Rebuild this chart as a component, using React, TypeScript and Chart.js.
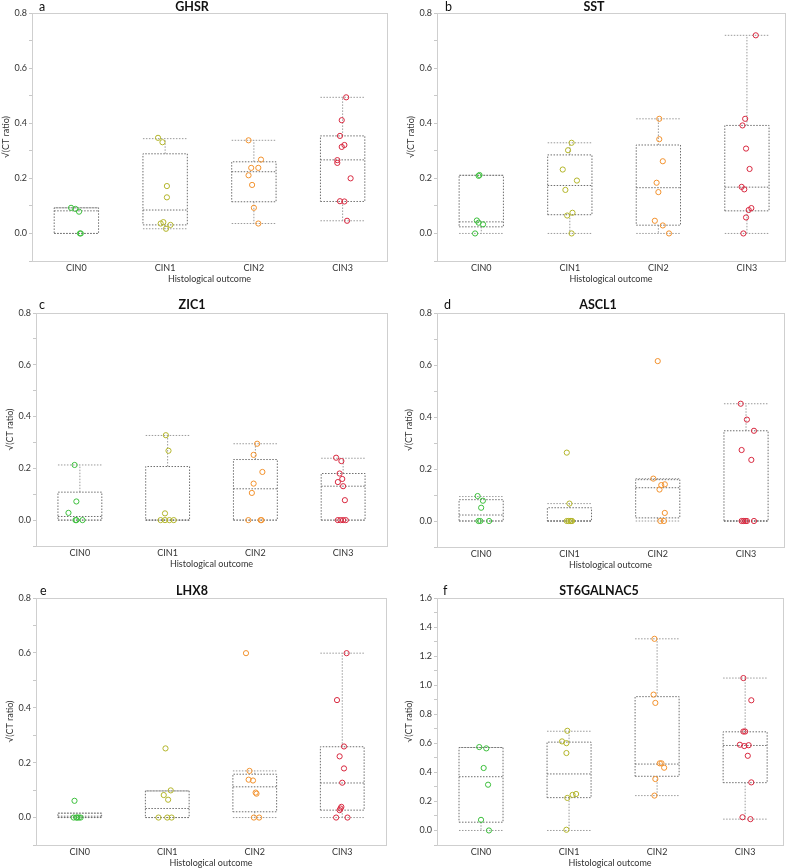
import React, { useEffect, useRef } from 'react';
import { Chart, registerables } from 'chart.js';

Chart.register(...registerables);

const CATEGORIES = ['CIN0', 'CIN1', 'CIN2', 'CIN3'];
const POINT_COLORS = ['#3cbf3c', '#b3b52a', '#f2922e', '#d8283f'];
const X_TITLE = 'Histological outcome';
const Y_TITLE = '√(CT ratio)';

// ---- GHSR ----
const GHSR_VALUES = [
  [0.093, 0.089, 0.079, 0, 0],
  [0.347, 0.331, 0.172, 0.131, 0.036, 0.041, 0.031, 0.017],
  [0.338, 0.268, 0.238, 0.238, 0.211, 0.176, 0.093, 0.036],
  [0.494, 0.411, 0.354, 0.321, 0.314, 0.266, 0.256, 0.2, 0.117, 0.116, 0.046],
];
const GHSR_JITTER = [
  [-0.06, -0.01, 0.03, 0.04, 0.05],
  [-0.08, -0.03, 0.02, 0.02, -0.05, -0.02, 0.06, 0.01],
  [-0.06, 0.08, -0.03, 0.05, -0.06, -0.02, 0, 0.05],
  [0.04, -0.01, -0.03, 0.02, -0.01, -0.06, -0.06, 0.09, -0.03, 0.02, 0.05],
];
// [min, q1, median, q3, max]
const GHSR_BOX = [
  [0, 0, 0.082, 0.093, 0.093],
  [0.017, 0.031, 0.085, 0.289, 0.344],
  [0.036, 0.115, 0.224, 0.26, 0.338],
  [0.046, 0.116, 0.267, 0.354, 0.494],
];

// ---- SST ----
const SST_VALUES = [
  [0.212, 0.209, 0.047, 0.039, 0.033, 0],
  [0.329, 0.302, 0.232, 0.192, 0.158, 0.075, 0.065, 0],
  [0.416, 0.342, 0.262, 0.184, 0.15, 0.046, 0.029, 0],
  [0.719, 0.416, 0.392, 0.308, 0.234, 0.169, 0.16, 0.092, 0.085, 0.058, 0],
];
const SST_JITTER = [
  [-0.02, -0.03, -0.05, -0.03, 0.02, -0.07],
  [0.02, -0.02, -0.08, 0.08, -0.05, 0.03, -0.03, 0.02],
  [0.01, 0.01, 0.05, -0.02, 0, -0.04, 0.05, 0.12],
  [0.1, -0.02, -0.05, -0.01, 0.03, -0.06, -0.03, 0.05, 0.02, -0.01, -0.04],
];
const SST_BOX = [
  [0, 0.024, 0.042, 0.211, 0.211],
  [0, 0.068, 0.174, 0.285, 0.329],
  [0, 0.03, 0.166, 0.321, 0.416],
  [0, 0.082, 0.168, 0.392, 0.719],
];

// ---- ZIC1 ----
const ZIC1_VALUES = [
  [0.213, 0.072, 0.028, 0, 0, 0],
  [0.328, 0.268, 0.026, 0, 0, 0, 0],
  [0.295, 0.252, 0.186, 0.141, 0.105, 0, 0, 0],
  [0.241, 0.228, 0.18, 0.159, 0.147, 0.131, 0.077, 0, 0, 0, 0],
];
const ZIC1_JITTER = [
  [-0.06, -0.04, -0.13, -0.05, -0.04, 0.03],
  [-0.02, 0.01, -0.03, -0.08, -0.03, 0.02, 0.07],
  [0.02, -0.02, 0.08, -0.02, -0.04, -0.08, 0.06, 0.07],
  [-0.08, -0.02, -0.04, -0.01, -0.06, 0, 0.02, -0.06, -0.03, 0, 0.03],
];
const ZIC1_BOX = [
  [0, 0, 0.014, 0.108, 0.213],
  [0, 0, 0, 0.207, 0.327],
  [0, 0, 0.121, 0.234, 0.295],
  [0, 0, 0.131, 0.18, 0.239],
];

// ---- ASCL1 ----
const ASCL1_VALUES = [
  [0.096, 0.078, 0.051, 0, 0, 0],
  [0.263, 0.067, 0, 0, 0, 0, 0],
  [0.615, 0.163, 0.138, 0.141, 0.121, 0.031, 0, 0],
  [0.451, 0.39, 0.347, 0.273, 0.235, 0, 0, 0, 0, 0],
];
const ASCL1_JITTER = [
  [-0.04, 0.02, 0, -0.03, -0.01, 0.09],
  [-0.03, 0, -0.03, -0.01, 0.01, 0.03, 0.02],
  [0, -0.05, 0.04, 0.08, 0.02, 0.08, 0.03, 0.07],
  [-0.06, 0.01, 0.09, -0.05, 0.06, -0.05, -0.03, -0.01, 0.01, 0.09],
];
const ASCL1_BOX = [
  [0, 0, 0.023, 0.082, 0.094],
  [0, 0, 0, 0.051, 0.067],
  [0, 0.012, 0.128, 0.159, 0.163],
  [0, 0, 0, 0.347, 0.451],
];

// ---- LHX8 ----
const LHX8_VALUES = [
  [0.061, 0, 0, 0, 0, 0],
  [0.252, 0.099, 0.082, 0.065, 0, 0, 0],
  [0.599, 0.17, 0.138, 0.135, 0.091, 0.087, 0, 0],
  [0.599, 0.428, 0.259, 0.223, 0.179, 0.127, 0.039, 0.033, 0.027, 0, 0],
];
const LHX8_JITTER = [
  [-0.06, -0.07, -0.04, -0.01, 0.01, -0.03],
  [-0.02, 0.04, -0.04, 0.01, -0.1, 0, 0.05],
  [-0.1, -0.06, -0.07, -0.02, 0.01, 0.02, -0.01, 0.05],
  [0.05, -0.06, 0.02, -0.03, 0.02, 0, -0.01, -0.02, -0.03, -0.07, 0.06],
];
const LHX8_BOX = [
  [0, 0, 0.005, 0.016, 0.016],
  [0, 0, 0.033, 0.097, 0.097],
  [0, 0.021, 0.112, 0.158, 0.17],
  [0, 0.027, 0.126, 0.258, 0.599],
];

// ---- ST6GALNAC5 ----
const ST6_VALUES = [
  [0.574, 0.565, 0.43, 0.315, 0.073, 0],
  [0.686, 0.613, 0.601, 0.533, 0.224, 0.245, 0.251, 0.005],
  [1.319, 0.935, 0.878, 0.462, 0.462, 0.432, 0.354, 0.24],
  [1.049, 0.896, 0.681, 0.681, 0.59, 0.581, 0.587, 0.514, 0.331, 0.091, 0.078],
];
const ST6_JITTER = [
  [-0.02, 0.06, 0.03, 0.08, 0, 0.09],
  [-0.02, -0.08, -0.03, -0.03, -0.02, 0.04, 0.08, -0.03],
  [-0.03, -0.04, -0.02, 0.03, 0.05, 0.08, -0.02, -0.03],
  [-0.02, 0.07, -0.02, 0, -0.06, -0.01, 0.04, 0.03, 0.07, -0.03, 0.06],
];
const ST6_BOX = [
  [0, 0.057, 0.37, 0.571, 0.571],
  [0, 0.226, 0.389, 0.608, 0.683],
  [0.24, 0.373, 0.457, 0.921, 1.319],
  [0.078, 0.329, 0.585, 0.679, 1.049],
];

const HALF = 0.25;
const FONT = 'Lato, "Open Sans", sans-serif';
const X_AXIS_H = 23;

type Panel = {
  letter: string;
  title: string;
  values: number[][];
  jitter: number[][];
  box: number[][];
  yMax: number;
  xMax: number;
  canvas: { left: number; top: number; width: number; height: number };
  area: { left: number; top: number; right: number; bottom: number };
  yTitlePad: number;
  titleX: number;
  titleY: number;
  letterX: number;
};

const PANELS: Panel[] = [
  {
    letter: 'a', title: 'GHSR', values: GHSR_VALUES, jitter: GHSR_JITTER, box: GHSR_BOX,
    yMax: 0.8, xMax: 3.5,
    canvas: { left: 0, top: 0, width: 396, height: 290 },
    area: { left: 32, top: 13, right: 387, bottom: 261 },
    yTitlePad: 1, titleX: 192, titleY: 7, letterX: 39,
  },
  {
    letter: 'b', title: 'SST', values: SST_VALUES, jitter: SST_JITTER, box: SST_BOX,
    yMax: 0.8, xMax: 3.43,
    canvas: { left: 396, top: 0, width: 397, height: 290 },
    area: { left: 41, top: 13, right: 389, bottom: 261 },
    yTitlePad: 10, titleX: 198, titleY: 7, letterX: 49,
  },
  {
    letter: 'c', title: 'ZIC1', values: ZIC1_VALUES, jitter: ZIC1_JITTER, box: ZIC1_BOX,
    yMax: 0.8, xMax: 3.5,
    canvas: { left: 0, top: 290, width: 396, height: 288 },
    area: { left: 36, top: 23, right: 387, bottom: 256 },
    yTitlePad: 5, titleX: 192, titleY: 15, letterX: 39,
  },
  {
    letter: 'd', title: 'ASCL1', values: ASCL1_VALUES, jitter: ASCL1_JITTER, box: ASCL1_BOX,
    yMax: 0.8, xMax: 3.43,
    canvas: { left: 396, top: 290, width: 397, height: 288 },
    area: { left: 41, top: 23, right: 388, bottom: 257 },
    yTitlePad: 8, titleX: 202, titleY: 15, letterX: 48,
  },
  {
    letter: 'e', title: 'LHX8', values: LHX8_VALUES, jitter: LHX8_JITTER, box: LHX8_BOX,
    yMax: 0.8, xMax: 3.5,
    canvas: { left: 0, top: 578, width: 396, height: 290 },
    area: { left: 36, top: 20, right: 386, bottom: 267 },
    yTitlePad: 5, titleX: 192, titleY: 13, letterX: 40,
  },
  {
    letter: 'f', title: 'ST6GALNAC5', values: ST6_VALUES, jitter: ST6_JITTER, box: ST6_BOX,
    yMax: 1.6, xMax: 3.43,
    canvas: { left: 396, top: 578, width: 397, height: 290 },
    area: { left: 41, top: 20, right: 387, bottom: 267 },
    yTitlePad: 8, titleX: 203, titleY: 13, letterX: 47,
  },
];

function PanelChart({ p }: { p: Panel }) {
  const ref = useRef<HTMLCanvasElement | null>(null);

  useEffect(() => {
    if (!ref.current) return;
    const boxData: any[] = [];
    const whiskerData: any[] = [];
    p.box.forEach((b, i) => {
      const [mn, q1, md, q3, mx] = b;
      const l = i - HALF;
      const r = i + HALF;
      boxData.push(
        { x: l, y: q1 }, { x: r, y: q1 }, { x: r, y: q3 }, { x: l, y: q3 }, { x: l, y: q1 },
        { x: i, y: null },
        { x: l, y: md }, { x: r, y: md },
        { x: i, y: null },
      );
      whiskerData.push(
        { x: i, y: q3 }, { x: i, y: mx }, { x: i, y: null },
        { x: i, y: q1 }, { x: i, y: mn }, { x: i, y: null },
        { x: l, y: mx }, { x: r, y: mx }, { x: i, y: null },
        { x: l, y: mn }, { x: r, y: mn }, { x: i, y: null },
      );
    });

    const pointSets = p.values.map((vals, c) => ({
      type: 'scatter' as const,
      label: CATEGORIES[c],
      data: vals.map((v, k) => ({ x: c + p.jitter[c][k], y: v })),
      showLine: false,
      pointRadius: 2.6,
      pointHoverRadius: 2.6,
      pointBorderWidth: 1,
      pointBackgroundColor: 'rgba(0,0,0,0)',
      pointBorderColor: POINT_COLORS[c],
      borderColor: POINT_COLORS[c],
    }));

    const framePlugin = {
      id: 'frame',
      beforeDatasetsDraw(chart: any) {
        const { ctx, chartArea: a } = chart;
        ctx.save();
        ctx.strokeStyle = '#cfcfcf';
        ctx.lineWidth = 1;
        ctx.strokeRect(Math.round(a.left) + 0.5, Math.round(a.top) + 0.5,
          Math.round(a.right - a.left), Math.round(a.bottom - a.top));
        ctx.restore();
      },
      afterDraw(chart: any) {
        const { ctx } = chart;
        ctx.save();
        ctx.fillStyle = '#111';
        ctx.textBaseline = 'middle';
        ctx.textAlign = 'center';
        ctx.font = `bold 12.5px ${FONT}`;
        ctx.fillText(p.title, p.titleX, p.titleY);
        ctx.textAlign = 'left';
        ctx.font = `12.5px ${FONT}`;
        ctx.fillText(p.letter, p.letterX, p.titleY);
        ctx.restore();
      },
    };

    const chart = new Chart(ref.current, {
      type: 'scatter',
      data: {
        datasets: [
          ...pointSets,
          {
            type: 'scatter' as const,
            label: 'box',
            data: boxData,
            showLine: true,
            spanGaps: false,
            borderColor: '#6e6e6e',
            borderWidth: 1,
            borderDash: [1.5, 1.5],
            pointRadius: 0,
            pointHoverRadius: 0,
          },
          {
            type: 'scatter' as const,
            label: 'whisker',
            data: whiskerData,
            showLine: true,
            spanGaps: false,
            borderColor: '#9a9a9a',
            borderWidth: 1,
            borderDash: [1.5, 1.5],
            pointRadius: 0,
            pointHoverRadius: 0,
          },
        ] as any,
      },
      options: {
        animation: false,
        responsive: false,
        maintainAspectRatio: false,
        events: [],
        layout: {
          padding: {
            left: 0,
            top: p.area.top,
            right: p.canvas.width - p.area.right,
            bottom: p.canvas.height - p.area.bottom - X_AXIS_H,
          },
        },
        plugins: {
          legend: { display: false },
          tooltip: { enabled: false },
          title: { display: false },
        },
        scales: {
          x: {
            type: 'linear',
            min: -0.5,
            max: p.xMax,
            grid: { display: false, drawTicks: false },
            border: { display: false },
            afterBuildTicks: (s: any) => {
              s.ticks = CATEGORIES.map((_, i) => ({ value: i }));
            },
            afterFit: (s: any) => {
              s.height = X_AXIS_H;
            },
            ticks: {
              autoSkip: false,
              maxRotation: 0,
              padding: 2,
              color: '#333',
              font: { family: FONT, size: 9 },
              callback: (v: any) => CATEGORIES[Math.round(Number(v))] ?? '',
            },
            title: {
              display: true,
              text: X_TITLE,
              color: '#333',
              padding: 0,
              font: { family: FONT, size: 9 },
            },
          },
          y: {
            type: 'linear',
            min: -0.1,
            max: p.yMax,
            grid: {
              display: true,
              drawOnChartArea: false,
              drawTicks: true,
              tickLength: 3,
              color: '#c8c8c8',
            },
            border: { display: false },
            afterFit: (s: any) => {
              s.width = p.area.left;
            },
            ticks: {
              stepSize: 0.1,
              maxTicksLimit: 100,
              autoSkip: false,
              padding: 2,
              color: '#333',
              font: { family: FONT, size: 9 },
              callback: (v: any) => {
                const t = Math.round(Number(v) * 10);
                return t >= 0 && t % 2 === 0 ? (t / 10).toFixed(1) : '';
              },
            },
            title: {
              display: true,
              text: Y_TITLE,
              color: '#333',
              padding: { top: p.yTitlePad, bottom: 0 },
              font: { family: FONT, size: 9 },
            },
          },
        },
      } as any,
      plugins: [framePlugin],
    });

    return () => chart.destroy();
  }, [p]);

  return (
    <canvas
      ref={ref}
      width={p.canvas.width}
      height={p.canvas.height}
      style={{
        position: 'absolute',
        left: p.canvas.left,
        top: p.canvas.top,
        width: p.canvas.width,
        height: p.canvas.height,
      }}
    />
  );
}

export default function App() {
  return (
    <div
      style={{
        position: 'absolute',
        left: 0,
        top: 0,
        width: 793,
        height: 868,
        background: '#fff',
        overflow: 'hidden',
      }}
    >
      {PANELS.map((p) => (
        <PanelChart key={p.letter} p={p} />
      ))}
    </div>
  );
}
